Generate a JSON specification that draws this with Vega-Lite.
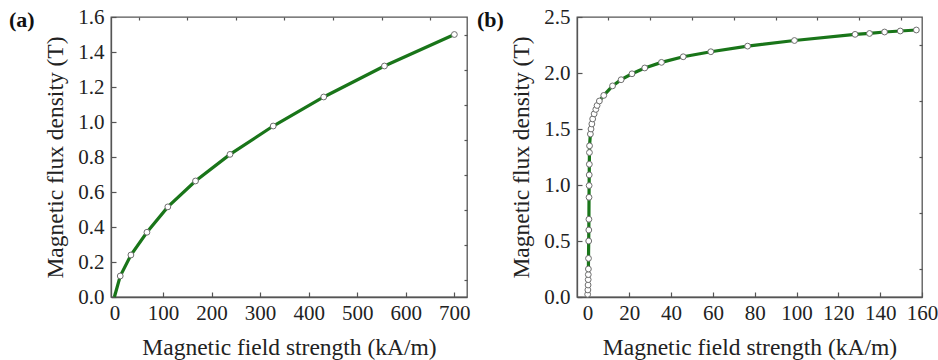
{
  "$schema": "https://vega.github.io/schema/vega-lite/v6.json",
  "padding": {"left": 8, "top": 5, "right": 5, "bottom": 0},
  "spacing": 110,
  "bounds": "flush",
  "datasets": {
    "a": [
      {"H": 0, "B": 0},
      {"H": 12, "B": 0.12},
      {"H": 34, "B": 0.24},
      {"H": 67, "B": 0.37},
      {"H": 110, "B": 0.515},
      {"H": 167, "B": 0.663},
      {"H": 238, "B": 0.815},
      {"H": 327, "B": 0.977},
      {"H": 431, "B": 1.143},
      {"H": 556, "B": 1.32},
      {"H": 700, "B": 1.5}
    ],
    "b": [
      {"H": 0, "B": 0},
      {"H": 0.1, "B": 0.024},
      {"H": 0.2, "B": 0.063},
      {"H": 0.3, "B": 0.107},
      {"H": 0.35, "B": 0.155},
      {"H": 0.4, "B": 0.2},
      {"H": 0.45, "B": 0.25},
      {"H": 0.5, "B": 0.345},
      {"H": 0.6, "B": 0.5},
      {"H": 0.65, "B": 0.598},
      {"H": 0.7, "B": 0.694},
      {"H": 0.75, "B": 0.89},
      {"H": 0.8, "B": 0.995},
      {"H": 0.85, "B": 1.09},
      {"H": 0.9, "B": 1.185},
      {"H": 0.95, "B": 1.29},
      {"H": 1.0, "B": 1.35},
      {"H": 1.4, "B": 1.455},
      {"H": 1.7, "B": 1.5},
      {"H": 2.1, "B": 1.545},
      {"H": 2.5, "B": 1.59},
      {"H": 3.2, "B": 1.635},
      {"H": 4.0, "B": 1.675},
      {"H": 4.6, "B": 1.71},
      {"H": 5.7, "B": 1.75},
      {"H": 7.8, "B": 1.8},
      {"H": 12, "B": 1.885},
      {"H": 16.1, "B": 1.94},
      {"H": 21.3, "B": 1.993},
      {"H": 27.4, "B": 2.045},
      {"H": 35.4, "B": 2.095},
      {"H": 45.8, "B": 2.145},
      {"H": 59, "B": 2.19},
      {"H": 76.6, "B": 2.24},
      {"H": 99, "B": 2.29},
      {"H": 128, "B": 2.345},
      {"H": 134.9, "B": 2.353},
      {"H": 142.1, "B": 2.366},
      {"H": 149.6, "B": 2.375},
      {"H": 157.3, "B": 2.384}
    ]
  },
  "hconcat": [
    {
      "width": 356,
      "height": 280,
      "title": {"text": "(a)", "anchor": "start", "frame": "group", "dx": -102, "dy": 30},
      "data": {"name": "a"},
      "layer": [
        {
          "mark": {"type": "line", "color": "#197519", "strokeWidth": 3.2},
          "encoding": {
            "x": {"field": "H", "type": "quantitative", "scale": {"domain": [-7, 726], "nice": false, "zero": false},
                  "axis": {"values": [0, 100, 200, 300, 400, 500, 600, 700], "title": "Magnetic field strength (kA/m)", "tickSize": -5, "labelPadding": 10, "titlePadding": 12}},
            "y": {"field": "B", "type": "quantitative", "scale": {"domain": [0, 1.6], "nice": false},
                  "axis": {"values": [0, 0.2, 0.4, 0.6, 0.8, 1.0, 1.2, 1.4, 1.6], "format": ".1f", "title": "Magnetic flux density (T)", "tickSize": -5, "labelPadding": 12, "titlePadding": 10}}
          }
        },
        {
          "transform": [{"filter": "datum.B > 0"}],
          "mark": {"type": "point", "shape": "circle", "size": 34, "filled": false, "fill": "white", "stroke": "#6e6e6e", "strokeWidth": 1, "opacity": 1},
          "encoding": {
            "x": {"field": "H", "type": "quantitative",
                  "axis": {"values": [50, 150, 250, 350, 450, 550, 650], "labels": false, "title": null, "tickSize": -3, "domain": false}},
            "y": {"field": "B", "type": "quantitative",
                  "axis": {"values": [0.1, 0.3, 0.5, 0.7, 0.9, 1.1, 1.3, 1.5], "labels": false, "title": null, "tickSize": -3, "domain": false}}
          }
        }
      ],
      "resolve": {"axis": {"x": "independent", "y": "independent"}}
    },
    {
      "width": 345,
      "height": 280,
      "title": {"text": "(b)", "anchor": "start", "frame": "group", "dx": -100, "dy": 30},
      "data": {"name": "b"},
      "layer": [
        {
          "mark": {"type": "line", "color": "#197519", "strokeWidth": 3.2},
          "encoding": {
            "x": {"field": "H", "type": "quantitative", "scale": {"domain": [-5, 160], "nice": false, "zero": false},
                  "axis": {"values": [0, 20, 40, 60, 80, 100, 120, 140, 160], "title": "Magnetic field strength (kA/m)", "tickSize": -5, "labelPadding": 10, "titlePadding": 12}},
            "y": {"field": "B", "type": "quantitative", "scale": {"domain": [0, 2.5], "nice": false},
                  "axis": {"values": [0, 0.5, 1.0, 1.5, 2.0, 2.5], "format": ".1f", "title": "Magnetic flux density (T)", "tickSize": -5, "labelPadding": 12, "titlePadding": 10}}
          }
        },
        {
          "transform": [{"filter": "datum.B > 0"}],
          "mark": {"type": "point", "shape": "circle", "size": 34, "filled": false, "fill": "white", "stroke": "#6e6e6e", "strokeWidth": 1, "opacity": 1},
          "encoding": {
            "x": {"field": "H", "type": "quantitative",
                  "axis": {"values": [10, 30, 50, 70, 90, 110, 130, 150], "labels": false, "title": null, "tickSize": -3, "domain": false}},
            "y": {"field": "B", "type": "quantitative",
                  "axis": {"values": [0.25, 0.75, 1.25, 1.75, 2.25], "labels": false, "title": null, "tickSize": -3, "domain": false}}
          }
        }
      ],
      "resolve": {"axis": {"x": "independent", "y": "independent"}}
    }
  ],
  "config": {
    "font": "Liberation Serif",
    "view": {"stroke": "#555555", "strokeWidth": 1.3},
    "title": {"font": "Liberation Serif", "fontSize": 22, "fontWeight": "bold", "color": "#111111", "baseline": "top"},
    "axis": {
      "grid": false,
      "labelFont": "Liberation Serif",
      "labelFontSize": 21,
      "labelOverlap": false,
      "labelFlush": false,
      "labelColor": "#222222",
      "titleFont": "Liberation Serif",
      "titleFontSize": 23.5,
      "titleFontWeight": "normal",
      "titleColor": "#222222",
      "domainColor": "#555555",
      "domainWidth": 1.3,
      "tickColor": "#555555",
      "tickWidth": 1.2
    },
    "axisX": {"orient": "bottom", "labelAngle": 0},
    "axisY": {"orient": "left"}
  }
}
